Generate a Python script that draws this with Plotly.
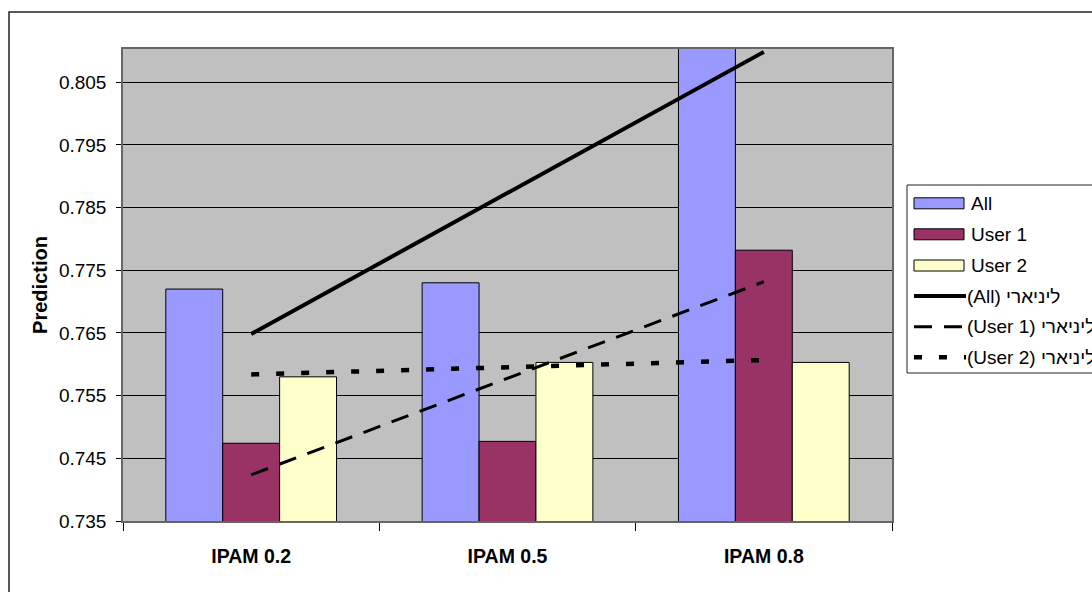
import numpy as np
import plotly.graph_objects as go

# ---- data ----
categories = ["IPAM 0.2", "IPAM 0.5", "IPAM 0.8"]
series_names = ["All", "User 1", "User 2"]
all_values = [0.772, 0.773, 0.817]
user1_values = [0.7474, 0.7477, 0.7782]
user2_values = [0.7580, 0.7603, 0.7603]
trend_names = ["(All) ליניארי", "(User 1) ליניארי", "(User 2) ליניארי"]
y_ticks = [0.735, 0.745, 0.755, 0.765, 0.775, 0.785, 0.795, 0.805]

# ---- styling ----
W, H = 1092, 592
L, R, T, B = 123, 200, 49, 71
PW, PH = W - L - R, H - T - B
FONT = "Liberation Sans, Arial, sans-serif"
bar_colors = ["#9999FF", "#993366", "#FFFFCC"]
trend_dash = ["solid", "18px,12px", "8px,17px"]
trend_width = [4, 3, 4.5]


def fx(px):
    return (px - L) / PW


def fy(py):
    return (H - B - py) / PH


fig = go.Figure()

series = [all_values, user1_values, user2_values]
for name, vals, color in zip(series_names, series, bar_colors):
    fig.add_trace(go.Bar(
        x=categories, y=vals, name=name, showlegend=False,
        marker=dict(color=color, line=dict(color="black", width=1)),
    ))

# linear trend lines fitted over the category index
xi = np.arange(1, len(categories) + 1)
for name, vals, dash, w in zip(trend_names, series, trend_dash, trend_width):
    slope, icpt = np.polyfit(xi, vals, 1)
    fit = slope * xi + icpt
    fig.add_trace(go.Scatter(
        x=categories, y=fit, name=name, mode="lines", showlegend=False,
        line=dict(color="black", width=w, dash=dash),
    ))

shapes = []
annotations = []

# outer chart frame
shapes.append(dict(type="rect", xref="paper", yref="paper",
                   x0=fx(9), x1=fx(1120), y0=fy(12), y1=fy(620),
                   line=dict(color="#222222", width=1.5), layer="below"))

# legend box
shapes.append(dict(type="rect", xref="paper", yref="paper",
                   x0=fx(907), x1=fx(1130), y0=fy(185), y1=fy(373),
                   line=dict(color="#222222", width=1), fillcolor="white"))

row_y = [203.3, 234.3, 265.5, 296.0, 326.7, 357.3]
for i, (name, color) in enumerate(zip(series_names, bar_colors)):
    yc = row_y[i]
    shapes.append(dict(type="rect", xref="paper", yref="paper",
                       x0=fx(914), x1=fx(964), y0=fy(yc - 5.5), y1=fy(yc + 5.5),
                       fillcolor=color, line=dict(color="black", width=1)))
    annotations.append(dict(xref="paper", yref="paper", x=fx(969), y=fy(yc),
                            text=name, showarrow=False, xanchor="left",
                            yanchor="middle",
                            font=dict(family=FONT, size=19, color="black")))
for j, (name, dash, w) in enumerate(zip(trend_names, trend_dash, trend_width)):
    yc = row_y[3 + j]
    shapes.append(dict(type="line", xref="paper", yref="paper",
                       x0=fx(914), x1=fx(966), y0=fy(yc), y1=fy(yc),
                       line=dict(color="black", width=w, dash=dash)))
    annotations.append(dict(xref="paper", yref="paper", x=fx(965), y=fy(yc),
                            text=name, showarrow=False, xanchor="left",
                            yanchor="middle",
                            font=dict(family=FONT, size=19, color="black")))

fig.update_layout(
    width=W, height=H,
    margin=dict(l=L, r=R, t=T, b=B, pad=0),
    paper_bgcolor="white",
    plot_bgcolor="#C0C0C0",
    barmode="group",
    bargap=0.334,
    bargroupgap=0,
    shapes=shapes,
    annotations=annotations,
    font=dict(family=FONT, color="black"),
)

fig.update_xaxes(
    type="category",
    tickson="boundaries",
    ticks="outside", ticklen=8, tickcolor="black", tickwidth=1,
    showline=True, linecolor="#666666", linewidth=1.5, mirror=True,
    showgrid=False,
    tickfont=dict(family=FONT, size=19.5, color="black", weight="bold"),
    ticklabelstandoff=17,
)

fig.update_yaxes(
    range=[0.735, 0.8103],
    tickvals=y_ticks,
    ticktext=[f"{v:.3f}" for v in y_ticks],
    ticks="outside", ticklen=5, tickcolor="black", tickwidth=1,
    showline=True, linecolor="#666666", linewidth=1.5, mirror=True,
    showgrid=True, gridcolor="black", gridwidth=1,
    zeroline=False,
    tickfont=dict(family=FONT, size=19, color="black"),
    ticklabelstandoff=6,
    title=dict(text="<b>Prediction</b>", standoff=6,
               font=dict(family=FONT, size=20, color="black")),
)

fig.write_html("out.html")
